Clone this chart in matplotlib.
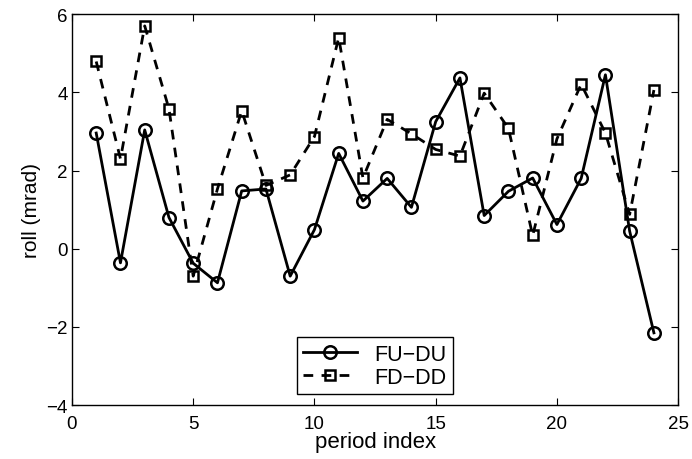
import numpy as np
import matplotlib.pyplot as plt

plt.rcParams['font.family'] = ['Liberation Sans', 'DejaVu Sans']

period = np.arange(1, 25)
fu_du = [2.96, -0.36, 3.04, 0.80, -0.37, -0.87, 1.48, 1.53, -0.70, 0.49, 2.44, 1.22,
         1.80, 1.06, 3.25, 4.37, 0.85, 1.47, 1.81, 0.62, 1.80, 4.45, 0.45, -2.15]
fd_dd = [4.79, 2.30, 5.70, 3.58, -0.70, 1.53, 3.53, 1.62, 1.89, 2.87, 5.40, 1.81,
         3.31, 2.94, 2.54, 2.37, 3.98, 3.08, 0.34, 2.81, 4.21, 2.96, 0.88, 4.06]

fig = plt.figure(figsize=(6.92, 4.60), dpi=100)
ax = fig.add_axes([0.104, 0.117, 0.876, 0.85])

ax.plot(period, fu_du, '-', color='black', lw=2, marker='o', ms=9,
        mfc='none', mec='black', mew=1.8, label='FU\u2212DU')
ax.plot(period, fd_dd, '--', color='black', lw=2, marker='s', ms=7.5,
        mfc='none', mec='black', mew=1.8, label='FD\u2212DD', dashes=(3.5, 3))

ax.set_xlim(0, 25)
ax.set_ylim(-4, 6)
ax.set_xticks([0, 5, 10, 15, 20, 25])
ax.set_yticks([-4, -2, 0, 2, 4, 6])
ax.tick_params(direction='in', top=True, right=True, labelsize=13.5, length=5, width=0.8)
ax.tick_params(axis='x', pad=7)
ax.tick_params(axis='y', pad=3)
for s in ax.spines.values():
    s.set_linewidth(1.0)

ax.set_xlabel('period index', fontsize=16, labelpad=-1)
ax.set_ylabel('roll (mrad)', fontsize=15, labelpad=4)

leg = ax.legend(loc='lower center', bbox_to_anchor=(0.5, 0.028), fontsize=15.5,
                fancybox=False, edgecolor='black', framealpha=1, handlelength=2.5,
                borderpad=0.3, labelspacing=0.1, handletextpad=0.8, borderaxespad=0)
leg.get_frame().set_linewidth(1.0)

fig.savefig('out.png', dpi=100)
